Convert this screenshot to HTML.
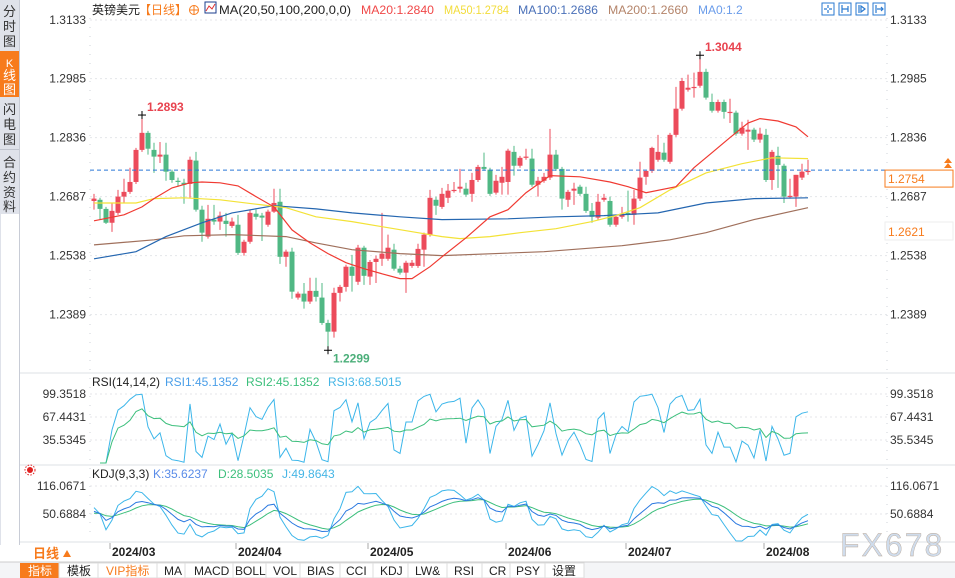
<!DOCTYPE html>
<html><head><meta charset="utf-8">
<style>
html,body{margin:0;padding:0;background:#fff;width:955px;height:578px;overflow:hidden;font-family:"Liberation Sans","Noto Sans CJK SC",sans-serif;}
svg text{font-family:"Liberation Sans","Noto Sans CJK SC",sans-serif;}
</style></head>
<body>
<svg id="chart" width="955" height="578" viewBox="0 0 955 578" xmlns="http://www.w3.org/2000/svg">
  <rect x="0" y="0" width="955" height="578" fill="#fff"/>
  <g>
    <rect x="0" y="0" width="19" height="545" fill="#dfe2ea"/>
    <rect x="19" y="0" width="1" height="545" fill="#c8ccd6"/>
    <g><text x="9.5" y="16" font-size="13" text-anchor="middle" fill="#333">分</text><text x="9.5" y="31" font-size="13" text-anchor="middle" fill="#333">时</text><text x="9.5" y="46" font-size="13" text-anchor="middle" fill="#333">图</text></g>
    <g><rect x="0" y="51" width="19" height="46" fill="#f77b1c"/><text x="9.5" y="67" font-size="11" text-anchor="middle" fill="#fff">K</text><text x="9.5" y="80" font-size="13" text-anchor="middle" fill="#fff">线</text><text x="9.5" y="94" font-size="13" text-anchor="middle" fill="#fff">图</text></g>
    <g><text x="9.5" y="114" font-size="13" text-anchor="middle" fill="#333">闪</text><text x="9.5" y="129" font-size="13" text-anchor="middle" fill="#333">电</text><text x="9.5" y="144" font-size="13" text-anchor="middle" fill="#333">图</text></g>
    <rect x="0" y="149" width="19" height="1" fill="#c0c4ce"/>
    <g><text x="9.5" y="167" font-size="13" text-anchor="middle" fill="#333">合</text><text x="9.5" y="182" font-size="13" text-anchor="middle" fill="#333">约</text><text x="9.5" y="197" font-size="13" text-anchor="middle" fill="#333">资</text><text x="9.5" y="211" font-size="13" text-anchor="middle" fill="#333">料</text></g>
    <rect x="1" y="214" width="18" height="331" fill="#fff"/>
  </g>
  <g id="grid"></g>
  <g id="main"></g>
  <g id="rsi"></g>
  <g id="kdj"></g>
  <g id="axes"></g>
  <g id="legend"></g>
</svg>
<script>
// ===== DATA =====
const opens = [1.2676,1.2679,1.2656,1.2621,1.2646,1.2687,1.2699,1.2724,1.2805,1.2848,1.2805,1.2788,1.2793,1.2750,1.2727,1.2722,1.2719,1.2778,1.2654,1.2586,1.2629,1.2624,1.2626,1.2613,1.2616,1.2545,1.2573,1.2644,1.2639,1.2616,1.2649,1.2674,1.2535,1.2548,1.2432,1.2442,1.2422,1.2449,1.2432,1.2368,1.2346,1.2444,1.2459,1.2510,1.2472,1.2558,1.2485,1.2522,1.2530,1.2530,1.2553,1.2505,1.2495,1.2512,1.2512,1.2553,1.2591,1.2679,1.2661,1.2684,1.2702,1.2707,1.2707,1.2694,1.2729,1.2762,1.2755,1.2697,1.2722,1.2724,1.2800,1.2765,1.2785,1.2783,1.2717,1.2727,1.2735,1.2793,1.2757,1.2679,1.2702,1.2712,1.2694,1.2651,1.2634,1.2679,1.2676,1.2616,1.2636,1.2646,1.2641,1.2682,1.2737,1.2752,1.2780,1.2798,1.2775,1.2843,1.2909,1.2957,1.2962,1.2967,1.3002,1.2926,1.2904,1.2926,1.2899,1.2899,1.2846,1.2851,1.2856,1.2831,1.2843,1.2729,1.2790,1.2765,1.2687,1.2687,1.2735,1.2750];
const highs = [1.2694,1.2684,1.2661,1.2671,1.2704,1.2732,1.2760,1.2810,1.2893,1.2853,1.2823,1.2825,1.2823,1.2755,1.2735,1.2732,1.2788,1.2800,1.2664,1.2666,1.2666,1.2649,1.2646,1.2634,1.2641,1.2578,1.2654,1.2654,1.2646,1.2654,1.2707,1.2707,1.2553,1.2558,1.2447,1.2469,1.2482,1.2482,1.2469,1.2376,1.2457,1.2464,1.2515,1.2540,1.2565,1.2563,1.2527,1.2538,1.2646,1.2591,1.2568,1.2512,1.2525,1.2527,1.2568,1.2596,1.2704,1.2687,1.2709,1.2719,1.2724,1.2757,1.2722,1.2747,1.2767,1.2798,1.2760,1.2742,1.2762,1.2808,1.2815,1.2790,1.2808,1.2808,1.2737,1.2747,1.2858,1.2805,1.2762,1.2704,1.2722,1.2717,1.2712,1.2671,1.2694,1.2694,1.2687,1.2641,1.2661,1.2702,1.2704,1.2775,1.2752,1.2813,1.2843,1.2823,1.2848,1.2964,1.2987,1.2995,1.3000,1.3044,1.3010,1.2947,1.2932,1.2932,1.2934,1.2904,1.2876,1.2881,1.2861,1.2861,1.2858,1.2805,1.2813,1.2770,1.2732,1.2742,1.2770,1.2780];
const lows = [1.2654,1.2629,1.2618,1.2598,1.2641,1.2671,1.2694,1.2719,1.2800,1.2793,1.2747,1.2772,1.2727,1.2722,1.2712,1.2669,1.2684,1.2649,1.2573,1.2581,1.2616,1.2603,1.2586,1.2608,1.2540,1.2538,1.2568,1.2629,1.2575,1.2611,1.2646,1.2517,1.2510,1.2429,1.2427,1.2404,1.2416,1.2422,1.2363,1.2299,1.2331,1.2422,1.2447,1.2447,1.2464,1.2464,1.2464,1.2469,1.2512,1.2525,1.2500,1.2490,1.2444,1.2507,1.2507,1.2510,1.2586,1.2641,1.2656,1.2671,1.2697,1.2697,1.2687,1.2674,1.2724,1.2752,1.2689,1.2692,1.2692,1.2692,1.2740,1.2760,1.2780,1.2712,1.2687,1.2722,1.2729,1.2752,1.2654,1.2661,1.2666,1.2689,1.2646,1.2621,1.2629,1.2674,1.2611,1.2611,1.2631,1.2624,1.2616,1.2676,1.2717,1.2747,1.2775,1.2775,1.2770,1.2838,1.2904,1.2952,1.2937,1.2962,1.2932,1.2899,1.2899,1.2884,1.2873,1.2841,1.2841,1.2805,1.2825,1.2823,1.2724,1.2704,1.2709,1.2671,1.2682,1.2661,1.2729,1.2742];
const closes = [1.2682,1.2656,1.2621,1.2651,1.2687,1.2699,1.2724,1.2805,1.2848,1.2808,1.2788,1.2793,1.2750,1.2729,1.2724,1.2717,1.2780,1.2654,1.2596,1.2631,1.2624,1.2639,1.2618,1.2624,1.2545,1.2573,1.2646,1.2636,1.2634,1.2649,1.2671,1.2535,1.2548,1.2447,1.2442,1.2422,1.2449,1.2434,1.2368,1.2346,1.2444,1.2459,1.2510,1.2487,1.2558,1.2487,1.2522,1.2530,1.2543,1.2558,1.2505,1.2495,1.2520,1.2520,1.2555,1.2591,1.2684,1.2664,1.2694,1.2702,1.2704,1.2712,1.2692,1.2729,1.2762,1.2757,1.2694,1.2727,1.2737,1.2803,1.2765,1.2785,1.2788,1.2717,1.2727,1.2737,1.2793,1.2757,1.2682,1.2699,1.2707,1.2694,1.2651,1.2636,1.2674,1.2684,1.2616,1.2636,1.2644,1.2641,1.2682,1.2735,1.2752,1.2810,1.2800,1.2780,1.2843,1.2909,1.2979,1.2962,1.2964,1.3002,1.2937,1.2904,1.2926,1.2901,1.2901,1.2846,1.2861,1.2856,1.2831,1.2846,1.2729,1.2800,1.2767,1.2687,1.2689,1.2742,1.2750,1.2752];
const ma20Days = [0,5,8,10,13,16,18,21,24,27,30,33,36,39,42,45,48,51,53,56,58,62,66,69,72,76,81,86,89,92,97,100,103,106,109,111,114,117,119];
const ma20Vals = [1.2626,1.2641,1.2661,1.2682,1.2709,1.2722,1.2724,1.2722,1.2714,1.2687,1.2661,1.2603,1.2570,1.2543,1.2520,1.2505,1.2492,1.2480,1.2480,1.2510,1.2535,1.2583,1.2636,1.2654,1.2697,1.2740,1.2737,1.2724,1.2712,1.2697,1.2712,1.2760,1.2798,1.2836,1.2873,1.2884,1.2878,1.2863,1.2838];
const ma50Days = [0,7,10,15,21,28,32,37,43,48,54,58,61,66,71,77,83,87,91,96,102,108,113,119];
const ma50Vals = [1.2671,1.2671,1.2682,1.2684,1.2679,1.2666,1.2659,1.2636,1.2624,1.2611,1.2596,1.2586,1.2581,1.2586,1.2596,1.2606,1.2624,1.2639,1.2659,1.2704,1.2747,1.2770,1.2785,1.2783];
const ma100Days = [0,7,12,18,23,30,37,43,51,58,69,77,85,94,102,110,119];
const ma100Vals = [1.2530,1.2548,1.2586,1.2621,1.2646,1.2664,1.2656,1.2646,1.2636,1.2629,1.2631,1.2636,1.2639,1.2646,1.2671,1.2682,1.2684];
const ma200Days = [0,10,15,23,32,37,43,51,58,75,88,96,102,110,119];
const ma200Vals = [1.2565,1.2578,1.2588,1.2591,1.2586,1.2570,1.2553,1.2543,1.2538,1.2548,1.2563,1.2578,1.2596,1.2629,1.2659];
const priceTicks = [1.3133,1.2985,1.2836,1.2687,1.2538,1.2389];
const rsiTicks = [99.3518,67.4431,35.5345];
const kdjTicks = [116.0671,50.6884];
const monthLabels = ["2024/03","2024/04","2024/05","2024/06","2024/07","2024/08"];
const monthDays = [3,24,46,69,89,112];
const lastPrice = 1.2754;
const lowMark = 1.2621;

// ===== SCALES =====
const X0 = 94, STEP = 6;
const PL = 90, PR = 887;
const xOf = i => X0 + i*STEP;
const yP = p => 20 + (1.3133 - p)*3960;
const yR = v => 417 - (v - 67.4431)*0.72;
const yK = v => 514 - (v - 50.6884)*0.428;
const NS = "http://www.w3.org/2000/svg";
function mk(tag, attrs, parent){ const e=document.createElementNS(NS,tag); for(const k in attrs) e.setAttribute(k,attrs[k]); parent.appendChild(e); return e; }
const grid = document.getElementById('grid'), main=document.getElementById('main'), axes=document.getElementById('axes'), rsiG=document.getElementById('rsi'), kdjG=document.getElementById('kdj');

priceTicks.forEach(t=>{
  const y=yP(t);
  const l=mk('line',{x1:PL,x2:PR,y1:y,y2:y,stroke:'#e4e6ea','stroke-dasharray':'2,3'},grid);
  
  
  const a=mk('text',{x:86,y:y+4,'font-size':12,'text-anchor':'end',fill:'#333'},axes); a.textContent=t.toFixed(4);
  
  
  const b=mk('text',{x:890,y:y+4,'font-size':12,fill:'#333'},axes); b.textContent=t.toFixed(4);
  
  
});
mk('line',{x1:PL,x2:PL,y1:18,y2:540,stroke:'#cfd3da','stroke-dasharray':'1,8'},grid);
mk('line',{x1:PR,x2:PR,y1:18,y2:540,stroke:'#cfd3da','stroke-dasharray':'1,8'},grid);
mk('line',{x1:20,x2:955,y1:373,y2:373,stroke:'#dde1e6'},grid);
mk('line',{x1:20,x2:955,y1:465,y2:465,stroke:'#dde1e6'},grid);
mk('line',{x1:20,x2:955,y1:542,y2:542,stroke:'#dde1e6'},grid);
rsiTicks.forEach(t=>{const y=yR(t);
  mk('line',{x1:PL,x2:PR,y1:y,y2:y,stroke:'#e4e6ea','stroke-dasharray':'2,3'},grid);
  const a=mk('text',{x:86,y:y+4,'font-size':12,'text-anchor':'end',fill:'#333'},axes);a.textContent=t.toFixed(4);
  
  
  const b=mk('text',{x:890,y:y+4,'font-size':12,fill:'#333'},axes);b.textContent=t.toFixed(4);
  
  
});
kdjTicks.forEach(t=>{const y=yK(t);
  mk('line',{x1:PL,x2:PR,y1:y,y2:y,stroke:'#e4e6ea','stroke-dasharray':'2,3'},grid);
  const a=mk('text',{x:86,y:y+4,'font-size':12,'text-anchor':'end',fill:'#333'},axes);a.textContent=t.toFixed(4);
  
  
  const b=mk('text',{x:890,y:y+4,'font-size':12,fill:'#333'},axes);b.textContent=t.toFixed(4);
  
  
});
monthLabels.forEach((m,k)=>{
  const x=xOf(monthDays[k]);
  mk('line',{x1:x-2,x2:x-2,y1:543,y2:549,stroke:'#aaa'},axes);
  const t=mk('text',{x:x,y:556,'font-size':12,'font-weight':'bold',fill:'#222'},axes); t.textContent=m;
  
  
});

const RED='#ec4b5b', GREEN='#50b884';
closes.forEach((c,i)=>{
  const o=opens[i],h=highs[i],l=lows[i];
  const up=c>=o, col=up?RED:GREEN, x=xOf(i);
  const g=mk('g',{},main);
  
  
  mk('line',{x1:x,x2:x,y1:yP(h),y2:yP(l),stroke:col,'stroke-width':1},g);
  const top=Math.min(yP(o),yP(c)), hgt=Math.max(1.2,Math.abs(yP(o)-yP(c)));
  mk('rect',{x:x-2.5,y:top,width:5,height:hgt,fill:col},g);
});
function line(days, vals, col, name){
  const pts=days.map((d,k)=>xOf(d)+','+yP(vals[k]).toFixed(1)).join(' ');
  const p=mk('polyline',{points:pts,fill:'none',stroke:col,'stroke-width':1.2},main);
  
  
}
line(ma200Days,ma200Vals,'#a0705c','ma200-line');
line(ma100Days,ma100Vals,'#2466b0','ma100-line');
line(ma50Days,ma50Vals,'#f3e236','ma50-line');
line(ma20Days,ma20Vals,'#f03a32','ma20-line');
const ly=yP(lastPrice);
const lp=mk('line',{x1:PL,x2:PR,y1:ly,y2:ly,stroke:'#2a78d8','stroke-dasharray':'4,3','stroke-width':1},main);


function extreme(i, val, col, above){
  const x=xOf(i), y=yP(val);
  mk('line',{x1:x-4,x2:x+4,y1:y,y2:y,stroke:'#000'},main);
  mk('line',{x1:x,x2:x,y1:y-4,y2:y+4,stroke:'#000'},main);
  const t=mk('text',{x:x+5,y:above?y-4:y+12,'font-size':12,'font-weight':'bold',fill:col},main); t.textContent=val.toFixed(4);
  
  
}
const hiIdx1=highs.slice(0,40).indexOf(Math.max(...highs.slice(0,40)));
extreme(hiIdx1, highs[hiIdx1], '#e8434f', true);
const hiIdx=highs.indexOf(Math.max(...highs));
extreme(hiIdx, highs[hiIdx], '#e8434f', true);
const loIdx=lows.indexOf(Math.min(...lows));
extreme(loIdx, lows[loIdx], '#4caf7a', false);
const pb=mk('g',{},axes);


mk('rect',{x:885,y:ly,width:68,height:17,fill:'#fff',stroke:'#f77b1c'},pb);
const pt=mk('text',{x:888,y:ly+13,'font-size':12,fill:'#f77b1c'},pb); pt.textContent=lastPrice.toFixed(4);
mk('path',{d:'M944 163 l4 -5 l4 5 z M944 168 l4 -5 l4 5 z',fill:'#f77b1c'},pb);
const lb=mk('g',{},axes);


mk('rect',{x:885,y:222,width:68,height:18,fill:'#fff',stroke:'#eee'},lb);
const lt=mk('text',{x:888,y:236,'font-size':12,fill:'#f77b1c'},lb); lt.textContent=lowMark.toFixed(4);

function rsi(n){
  const out=[]; let ag=0, al=0;
  for(let i=1;i<closes.length;i++){
    const d=closes[i]-closes[i-1], g=Math.max(d,0), l=Math.max(-d,0);
    if(i<=n){ag+=g/n; al+=l/n;} else {ag=(ag*(n-1)+g)/n; al=(al*(n-1)+l)/n;}
    const r = al===0?100:100-100/(1+ag/al);
    out.push([i, r]);
  }
  return out;
}
function poly(arr, fy, col, parent, name){
  const pts=arr.map(([i,v])=>xOf(i)+','+Math.max(378,Math.min(463,fy(v))).toFixed(1)).join(' ');
  const p=mk('polyline',{points:pts,fill:'none',stroke:col,'stroke-width':1},parent);
  
  
}
poly(rsi(2),yR,'#3cb6ea',rsiG,'rsi1-line');
poly(rsi(14),yR,'#3cbf7c',rsiG,'rsi2-line');
const K=[],D=[],J=[]; let k=50,d=50;
closes.forEach((c,i)=>{
  const s=Math.max(0,i-8); const hh=Math.max(...highs.slice(s,i+1)), ll=Math.min(...lows.slice(s,i+1));
  const rsv = hh===ll?50:(c-ll)/(hh-ll)*100;
  k=(2*k+rsv)/3; d=(2*d+k)/3;
  K.push([i,k]); D.push([i,d]); J.push([i,3*k-2*d]);
});
function polyK(arr,col,name){
  const pts=arr.map(([i,v])=>xOf(i)+','+Math.max(468,Math.min(541,yK(v))).toFixed(1)).join(' ');
  const p=mk('polyline',{points:pts,fill:'none',stroke:col,'stroke-width':1},kdjG);
  
  
}
polyK(J,'#3cb6ea','kdj-j-line');
polyK(D,'#3cbf7c','kdj-d-line');
polyK(K,'#2a78e0','kdj-k-line');
</script>
<svg style="position:absolute;left:0;top:0" width="955" height="578">
  <g font-size="12">
    <text x="92" y="14" fill="#222">英镑美元</text>
    <text x="139" y="14" fill="#f77b1c">【日线】</text>
    <g><circle cx="194" cy="10" r="4.5" fill="none" stroke="#f77b1c"/><line x1="189.5" x2="198.5" y1="10" y2="10" stroke="#f77b1c"/><line x1="194" x2="194" y1="5.5" y2="14.5" stroke="#f77b1c"/></g>
    <g><rect x="205" y="2" width="11" height="11" fill="#fff" stroke="#1b3c8c"/><polyline points="206,11 209,6 212,9 215,4" fill="none" stroke="#e03030"/></g>
    <text x="219" y="14" fill="#222" textLength="132" lengthAdjust="spacingAndGlyphs">MA(20,50,100,200,0,0)</text>
    <text x="361" y="14" fill="#f04848" textLength="73" lengthAdjust="spacingAndGlyphs">MA20:1.2840</text>
    <text x="444" y="14" fill="#f2dc3a" textLength="65" lengthAdjust="spacingAndGlyphs">MA50:1.2784</text>
    <text x="518" y="14" fill="#4a70b8" textLength="80" lengthAdjust="spacingAndGlyphs">MA100:1.2686</text>
    <text x="608" y="14" fill="#b4846a" textLength="80" lengthAdjust="spacingAndGlyphs">MA200:1.2660</text>
    <text x="698" y="14" fill="#6a9cea">MA0:1.2</text>
  </g>
  <g fill="none" stroke="#2a7ad0">
    <rect x="822" y="3" width="12" height="12"/>
    <rect x="839" y="3" width="12" height="12"/>
    <rect x="856" y="3" width="12" height="12"/>
    <rect x="873" y="3" width="12" height="12"/>
    <path d="M828 5 v3 M828 10 v3 M824 9 h3 M829 9 h3 M842 5 v8 M842 9 h6 M848 6 v6 M859 5 v8 M861 6 l4 3 l-4 3 z M876 5 v8 M877 9 h6 M881 7 l2 2 l-2 2" stroke-width="1.2"/>
  </g>
  <g font-size="12">
    <text x="92" y="386" fill="#222">RSI(14,14,2)</text>
    <text x="165" y="386" fill="#4a9ee8">RSI1:45.1352</text>
    <text x="246" y="386" fill="#3cbf7c">RSI2:45.1352</text>
    <text x="328" y="386" fill="#46b6e6">RSI3:68.5015</text>
  </g>
  <g font-size="12">
    <text x="92" y="478" fill="#222">KDJ(9,3,3)</text>
    <text x="153" y="478" fill="#5a8ce8">K:35.6237</text>
    <text x="218" y="478" fill="#3cbf7c">D:28.5035</text>
    <text x="282" y="478" fill="#46b6e6">J:49.8643</text>
  </g>
  <g><circle cx="30" cy="470" r="3" fill="#e02020"/><circle cx="30" cy="470" r="5" fill="none" stroke="#e02020" stroke-dasharray="1.5,1.5"/></g>
  <text x="840" y="556" font-size="32" fill="#cfdcec" stroke="#b8a89a" stroke-width="0.4" letter-spacing="2">FX678</text>
  <g><rect x="20" y="543" width="70" height="19" fill="#fff"/><text x="33" y="558" font-size="13" font-weight="bold" fill="#f77b1c">日线</text><path d="M63 557 l4 -7 l4 7 z" fill="#f77b1c"/></g>
  <g font-size="12" font-family="Liberation Mono, Noto Sans CJK SC, monospace">
    <rect x="0" y="562" width="955" height="16" fill="#f4f5f7"/>
    <line x1="0" x2="955" y1="562" y2="562" stroke="#ccc"/>
    <g><rect x="20" y="563" width="39" height="15" fill="#f77b1c"/><text x="28" y="575" fill="#fff">指标</text></g>
    <g><rect x="59" y="563" width="39" height="15" fill="#fff" stroke="#ddd"/><text x="67" y="575" fill="#222">模板</text></g>
    <g><rect x="98" y="563" width="59" height="15" fill="#fff" stroke="#ddd"/><text x="106" y="575" fill="#f77b1c">VIP指标</text></g>
    <g><rect x="157" y="563" width="28" height="15" fill="#fff" stroke="#ddd"/><text x="164" y="575" fill="#222">MA</text></g>
    <g><rect x="185" y="563" width="48" height="15" fill="#fff" stroke="#ddd"/><text x="194" y="575" fill="#222">MACD</text></g>
    <g><rect x="233" y="563" width="33" height="15" fill="#fff" stroke="#ddd"/><text x="235" y="575" fill="#222">BOLL</text></g>
    <g><rect x="266" y="563" width="34" height="15" fill="#fff" stroke="#ddd"/><text x="273" y="575" fill="#222">VOL</text></g>
    <g><rect x="300" y="563" width="40" height="15" fill="#fff" stroke="#ddd"/><text x="307" y="575" fill="#222">BIAS</text></g>
    <g><rect x="340" y="563" width="33" height="15" fill="#fff" stroke="#ddd"/><text x="346" y="575" fill="#222">CCI</text></g>
    <g><rect x="373" y="563" width="35" height="15" fill="#fff" stroke="#ddd"/><text x="380" y="575" fill="#222">KDJ</text></g>
    <g><rect x="408" y="563" width="39" height="15" fill="#fff" stroke="#ddd"/><text x="415" y="575" fill="#222">LW&amp;</text></g>
    <g><rect x="447" y="563" width="35" height="15" fill="#fff" stroke="#ddd"/><text x="454" y="575" fill="#222">RSI</text></g>
    <g><rect x="482" y="563" width="28" height="15" fill="#fff" stroke="#ddd"/><text x="489" y="575" fill="#222">CR</text></g>
    <g><rect x="510" y="563" width="35" height="15" fill="#fff" stroke="#ddd"/><text x="516" y="575" fill="#222">PSY</text></g>
    <g><rect x="545" y="563" width="39" height="15" fill="#fff" stroke="#ddd"/><text x="552" y="575" fill="#222">设置</text></g>
  </g>
</svg>
</body></html>
